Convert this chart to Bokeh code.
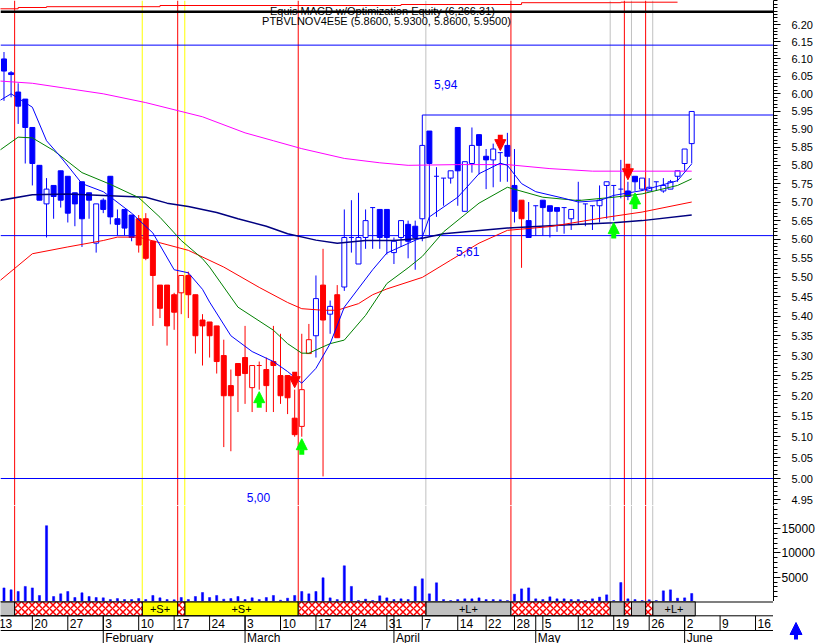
import numpy as np
import pandas as pd
from bokeh.plotting import figure
from bokeh.layouts import column, row
from bokeh.models import (Range1d, LinearScale, FixedTicker, PrintfTickFormatter,
                          Span, Label, Arrow, NormalHead, ColumnDataSource)
from bokeh.embed import file_html
from bokeh.resources import INLINE
from bokeh.core.properties import value

FONT = "Liberation Sans"

# ---------------- DATA ----------------
holidays = ["2003-04-18", "2003-04-21", "2003-05-01"]
title_text = "Equis  MACD  w/Optimization Equity (6,266.31)"
symbol_text = "PTBVLNOV4E5E (5.8600, 5.9300, 5.8600, 5.9500)"

# bars 1..98 (index 0 = 13 Jan 2003)
open_ = [6.10, 6.06, 6.005, 5.985, 5.905, 5.80, 5.695, 5.745, 5.785, 5.77,
         5.725, 5.755, 5.725, 5.59, 5.705, 5.77, 5.655, 5.68, 5.665, 5.655,
         5.655, 5.595, 5.48, 5.48, 5.455, 5.46, 5.505, 5.455, 5.39, 5.385,
         5.375, 5.30, 5.225, 5.28, 5.295, 5.22, 5.275, 5.265, 5.285, 5.25,
         5.25, 5.145, 5.125, 5.305, 5.35, 5.48, 5.405, 5.455, 5.475, 5.605,
         5.535, 5.605, 5.685, 5.68, 5.68, 5.565, 5.605, 5.64, 5.635, 5.655,
         5.895, 5.77, 5.765, 5.765, 5.905, 5.675, 5.805, 5.885, 5.825, 5.815,
         5.835, 5.855, 5.745, 5.705, 5.65, 5.69, 5.705, 5.69, 5.685, 5.685,
         5.655, 5.705, 5.695, 5.69, 5.69, 5.745, 5.745, 5.735, 5.73, 5.77,
         5.735, 5.73, 5.755, 5.73, 5.735, 5.77, 5.805, 5.86]
high = [6.12, 6.065, 6.03, 5.985, 5.905, 5.80, 5.765, 5.745, 5.785, 5.77,
        5.725, 5.755, 5.725, 5.695, 5.71, 5.77, 5.68, 5.68, 5.665, 5.665,
        5.67, 5.595, 5.48, 5.48, 5.46, 5.505, 5.515, 5.455, 5.405, 5.385,
        5.375, 5.34, 5.265, 5.28, 5.375, 5.275, 5.285, 5.295, 5.375, 5.355,
        5.25, 5.215, 5.355, 5.38, 5.505, 5.575, 5.44, 5.48, 5.68, 5.705,
        5.725, 5.68, 5.685, 5.68, 5.68, 5.605, 5.65, 5.65, 5.65, 5.94,
        5.895, 5.795, 5.765, 5.785, 5.905, 5.81, 5.905, 5.885, 5.845, 5.86,
        5.835, 5.89, 5.845, 5.705, 5.70, 5.69, 5.705, 5.69, 5.685, 5.685,
        5.68, 5.755, 5.695, 5.69, 5.745, 5.755, 5.745, 5.815, 5.755, 5.77,
        5.765, 5.765, 5.755, 5.765, 5.76, 5.785, 5.845, 5.95]
low = [5.98, 5.99, 5.915, 5.805, 5.745, 5.705, 5.605, 5.655, 5.685, 5.645,
       5.635, 5.58, 5.655, 5.565, 5.67, 5.64, 5.61, 5.61, 5.595, 5.565,
       5.545, 5.375, 5.395, 5.325, 5.365, 5.405, 5.395, 5.305, 5.275, 5.295,
       5.255, 5.075, 5.065, 5.16, 5.18, 5.16, 5.215, 5.16, 5.16, 5.18,
       5.155, 5.10, 5.10, 5.305, 5.295, 5.005, 5.355, 5.345, 5.465, 5.565,
       5.535, 5.575, 5.575, 5.575, 5.56, 5.535, 5.58, 5.55, 5.52, 5.595,
       5.61, 5.66, 5.69, 5.75, 5.69, 5.675, 5.78, 5.775, 5.735, 5.74,
       5.755, 5.755, 5.645, 5.525, 5.605, 5.61, 5.61, 5.605, 5.62, 5.615,
       5.625, 5.64, 5.635, 5.625, 5.645, 5.655, 5.65, 5.71, 5.705, 5.73,
       5.73, 5.73, 5.73, 5.725, 5.735, 5.755, 5.785, 5.805]
close = [6.065, 6.055, 5.965, 5.905, 5.805, 5.705, 5.735, 5.715, 5.705, 5.67,
         5.695, 5.655, 5.705, 5.695, 5.68, 5.66, 5.64, 5.63, 5.605, 5.585,
         5.55, 5.505, 5.42, 5.375, 5.41, 5.505, 5.455, 5.35, 5.375, 5.35,
         5.285, 5.20, 5.20, 5.25, 5.255, 5.275, 5.275, 5.225, 5.275, 5.20,
         5.195, 5.105, 5.215, 5.34, 5.445, 5.39, 5.425, 5.345, 5.605, 5.605,
         5.605, 5.65, 5.685, 5.605, 5.605, 5.595, 5.65, 5.595, 5.605, 5.855,
         5.805, 5.77, 5.765, 5.785, 5.785, 5.81, 5.855, 5.855, 5.815, 5.845,
         5.835, 5.825, 5.675, 5.655, 5.605, 5.69, 5.685, 5.675, 5.675, 5.685,
         5.68, 5.705, 5.695, 5.69, 5.705, 5.755, 5.745, 5.735, 5.715, 5.755,
         5.765, 5.74, 5.755, 5.745, 5.755, 5.785, 5.845, 5.95]
bar_colors = "b" * 19 + "r" * 25 + "brbr" + "b" * 25 + "r" + "b" * 24
volume = [2800, 2400, 2060, 3100, 2800, 1240, 15600, 1030, 1580, 2060,
          820, 1790, 1030, 820, 750, 400, 600, 400, 400, 600,
          400, 1240, 750, 400, 350, 820, 400, 1030, 1850, 820,
          1240, 480, 600, 1030, 400, 750, 400, 820, 1240, 270,
          680, 1240, 2060, 1580, 2060, 4880, 750, 400, 7350, 3100,
          200, 480, 200, 1170, 750, 400, 550, 400, 3100, 4670,
          1580, 3850, 400, 200, 400, 550, 550, 750, 400, 400,
          350, 200, 1500, 2600, 2800, 550, 400, 960, 550, 550,
          400, 400, 200, 550, 900, 1370, 200, 3900, 550, 400,
          200, 350, 200, 2200, 2400, 680, 750, 1650]

# moving averages (bar index, value)
ma_magenta_x = [0, 5, 10, 15, 21, 29, 35, 39, 43, 49, 54, 58, 65, 72, 78, 84, 90, 98]
ma_magenta_y = [6.037, 6.03, 6.015, 6.0, 5.975, 5.935, 5.89, 5.868, 5.846, 5.819,
                5.807, 5.80, 5.802, 5.802, 5.791, 5.784, 5.784, 5.784]
ma_navy_x = [0, 5, 10, 15, 21, 24, 27, 31, 34, 38, 41, 45, 48, 52, 56, 60, 63, 72, 80, 87, 91, 98]
ma_navy_y = [5.703, 5.72, 5.722, 5.718, 5.713, 5.697, 5.688, 5.672, 5.655, 5.635, 5.615,
             5.598, 5.59, 5.597, 5.597, 5.603, 5.615, 5.63, 5.638, 5.644, 5.65, 5.665]
ma_red_x = [0, 5, 10, 15, 17, 20, 24, 27, 32, 37, 41, 43, 46, 48, 51, 53, 55, 60, 64, 68,
            72, 78, 86, 91, 98]
ma_red_y = [5.485, 5.562, 5.58, 5.597, 5.606, 5.606, 5.586, 5.571, 5.527, 5.474, 5.435,
            5.419, 5.415, 5.415, 5.432, 5.455, 5.47, 5.50, 5.545, 5.59, 5.624, 5.634,
            5.659, 5.673, 5.70]
ma_green_x = [0, 3, 5, 8, 12, 16, 20, 23, 26, 29, 30, 34, 39, 41, 43, 44, 47, 49, 52, 55,
              58, 60, 63, 68, 72, 77, 82, 87, 91, 96, 98]
ma_green_y = [5.836, 5.878, 5.876, 5.841, 5.78, 5.748, 5.712, 5.659, 5.597, 5.549, 5.527,
              5.423, 5.364, 5.33, 5.306, 5.306, 5.33, 5.339, 5.402, 5.484, 5.525, 5.555,
              5.62, 5.697, 5.74, 5.713, 5.704, 5.713, 5.722, 5.745, 5.763]
ma_blue_x = [0, 2, 5, 7, 9, 12, 15, 16, 19, 22, 25, 27, 29, 30, 33, 36, 39, 41, 43, 45,
             47, 49, 53, 55, 60, 61, 65, 68, 71, 72, 74, 76, 80, 82, 85, 87, 91, 96, 98]
ma_blue_y = [5.976, 6.00, 5.962, 5.868, 5.823, 5.75, 5.728, 5.714, 5.67, 5.617, 5.52,
             5.512, 5.469, 5.436, 5.35, 5.31, 5.285, 5.26, 5.231, 5.268, 5.33, 5.423,
             5.52, 5.564, 5.606, 5.66, 5.713, 5.777, 5.806, 5.80, 5.75, 5.728, 5.71,
             5.70, 5.704, 5.718, 5.731, 5.758, 5.804]

# horizontal levels
levels_full = [6.14, 5.61, 5.00]
level_594 = 5.94
level_594_start = 60
level_texts = ["5,94", "5,61", "5,00"]
level_vals = [5.94, 5.61, 5.00]
level_text_x = [63.3, 66.4, 36.9]

# trades (side, entry bar, exit bar); last one still open
trades = [("L", 0, 2), ("S", 21, 25), ("S", 27, 42), ("L", 61, 72),
          ("L", 87, 88), ("L", 90, 91), ("L", 93, 98)]
buy_bars = [37, 43, 87, 90]
sell_bars = [42, 71, 89]

# equity (bar index where level starts, value)
eq_x = [0, 3, 7, 23, 57, 74, 88, 96]
eq_v = [5000, 5248, 5402, 5632, 5824, 6170, 6266.31, 6266.31]

# ---------------- LAYOUT CONSTANTS ----------------
X0, DX = -3.6, 7.09            # pixel of bar 0, px per bar
P_REF, Y_REF, KLOG = 5.0, 478.0, 2110.0


def py(yref):
    return P_REF * np.exp((Y_REF - yref) / KLOG)


W = 819
FRAME_W = 773
H_PRICE, H_VOL, H_BAND = 505, 96, 42
EQ_TOP, EQ_PX = 6266.31 + 1.7 * 192, 192.0

xs = (0 - X0) / DX
xe = (FRAME_W - X0) / DX

BLUE, RED, GREEN, YEL, GRAY = "#0000ff", "#ff0000", "#00ff00", "#ffff00", "#c0c0c0"

trading_days = [d for d in pd.bdate_range("2003-01-13", "2003-06-20")
                if d.strftime("%Y-%m-%d") not in holidays]
idx = list(range(1, len(open_) + 1))
color = [BLUE if c == "b" else RED for c in bar_colors]

xr = Range1d(xs, xe)

# ---------------- PRICE PANEL ----------------
p = figure(width=W, height=H_PRICE, x_range=xr,
           y_range=Range1d(py(H_PRICE), py(0)), y_axis_type="log",
           y_axis_location="right", x_axis_location=None,
           toolbar_location=None, output_backend="svg",
           min_border_left=0, min_border_right=W - FRAME_W,
           min_border_top=0, min_border_bottom=0, outline_line_color=None)
p.xgrid.visible = False
p.ygrid.visible = False
p.extra_y_ranges = {"eq": Range1d(EQ_TOP - H_PRICE * EQ_PX, EQ_TOP)}
p.extra_y_scales = {"eq": LinearScale()}

major = [round(4.95 + 0.05 * k, 2) for k in range(26)]
minor = [round(4.93 + 0.01 * k, 2) for k in range(135)]
ax = p.yaxis[0]
ax.ticker = FixedTicker(ticks=major, minor_ticks=minor)
ax.formatter = PrintfTickFormatter(format="%.2f")
ax.major_tick_out = 7
ax.major_tick_in = 0
ax.minor_tick_out = 4
ax.minor_tick_in = 0
ax.major_label_standoff = 11
ax.major_label_text_font = FONT
ax.major_label_text_font_size = "11px"
ax.major_label_text_color = "#000000"
ax.axis_line_color = "#000000"


def trade_lines():
    out = []
    for k, (side, e, x) in enumerate(trades):
        out.append((e - 0.5, YEL if side == "S" else GRAY))
        if k < len(trades) - 1:
            out.append((x + 0.5, RED))
    return out


for loc, c in trade_lines():
    p.add_layout(Span(location=loc, dimension="height", line_color=c,
                      line_width=1, level="underlay"))

for lv in levels_full:
    p.add_layout(Span(location=lv, dimension="width", line_color=BLUE,
                      line_width=1, level="underlay"))
p.segment(x0=[level_594_start], y0=[level_594], x1=[xe + 5], y1=[level_594],
          line_color=BLUE, line_width=1)

# equity line
p.step(x=eq_x, y=eq_v, mode="after", y_range_name="eq", line_color=RED, line_width=1)
p.add_layout(Span(location=py(11.2), dimension="width", line_color="#000000",
                  line_width=2.5))

# candles
src = ColumnDataSource(dict(x=idx, o=open_, h=high, l=low, c=close, col=color))
p.segment(x0="x", y0="l", x1="x", y1="h", line_color="col", line_width=1, source=src)


def sub(ks):
    return ColumnDataSource(dict(x=[idx[k] for k in ks], o=[open_[k] for k in ks],
                                 c=[close[k] for k in ks], col=[color[k] for k in ks],
                                 x0=[idx[k] - 0.35 for k in ks], x1=[idx[k] + 0.35 for k in ks]))


n = len(open_)
dn = [k for k in range(n) if close[k] < open_[k]]
up = [k for k in range(n) if close[k] > open_[k]]
dj = [k for k in range(n) if close[k] == open_[k]]
p.vbar(x="x", width=0.7, top="o", bottom="c", fill_color="col", line_color="col",
       line_width=1, source=sub(dn))
p.vbar(x="x", width=0.7, top="c", bottom="o", fill_color="white", line_color="col",
       line_width=1, source=sub(up))
p.segment(x0="x0", y0="c", x1="x1", y1="c", line_color="col", line_width=1, source=sub(dj))

# moving averages
p.line(ma_magenta_x, ma_magenta_y, line_color="#ff00ff", line_width=1)
p.line(ma_navy_x, ma_navy_y, line_color="#000080", line_width=1.5)
p.line(ma_red_x, ma_red_y, line_color=RED, line_width=1)
p.line(ma_green_x, ma_green_y, line_color="#008000", line_width=1)
p.line(ma_blue_x, ma_blue_y, line_color=BLUE, line_width=1)

# level labels
p.text(x=level_text_x, y=level_vals, text=level_texts, y_offset=[-31, 16, 19],
       text_align="center", text_baseline="middle", text_color=BLUE,
       text_font=value(FONT), text_font_size="12px")

# signal arrows
bx = buy_bars
by_tip = [low[b - 1] * np.exp(-2 / KLOG) for b in bx]
by_tail = [low[b - 1] * np.exp(-18 / KLOG) for b in bx]
p.add_layout(Arrow(end=NormalHead(size=11, fill_color=GREEN, line_color=GREEN),
                   source=ColumnDataSource(dict(x=bx, y0=by_tail, y1=by_tip)),
                   x_start="x", y_start="y0", x_end="x", y_end="y1",
                   line_color=GREEN, line_width=5))
sx = sell_bars
sy_tip = [high[b - 1] * np.exp(2 / KLOG) for b in sx]
sy_tail = [high[b - 1] * np.exp(18 / KLOG) for b in sx]
p.add_layout(Arrow(end=NormalHead(size=11, fill_color=RED, line_color=RED),
                   source=ColumnDataSource(dict(x=sx, y0=sy_tail, y1=sy_tip)),
                   x_start="x", y_start="y0", x_end="x", y_end="y1",
                   line_color=RED, line_width=5))

# titles
p.add_layout(Label(x=(385 - X0) / DX, y=py(10.7), text=title_text, text_align="center",
                   text_baseline="middle", text_font=FONT, text_font_size="11px",
                   text_color="#000000"))
p.add_layout(Label(x=(386 - X0) / DX, y=py(20.7), text=symbol_text, text_align="center",
                   text_baseline="middle", text_font=FONT, text_font_size="11px",
                   text_color="#000000"))

# ---------------- VOLUME PANEL ----------------
v = figure(width=W, height=H_VOL, x_range=xr, y_range=Range1d(0, H_VOL / 4.86 * 1000),
           y_axis_location="right", x_axis_location=None, toolbar_location=None,
           output_backend="svg", min_border_left=0, min_border_right=W - FRAME_W,
           min_border_top=0, min_border_bottom=0, outline_line_color=None)
v.xgrid.visible = False
v.ygrid.visible = False
vax = v.yaxis[0]
vax.ticker = FixedTicker(ticks=[5000, 10000, 15000], minor_ticks=list(range(1000, 20000, 1000)))
vax.formatter = PrintfTickFormatter(format="%d")
vax.major_tick_out = 7
vax.major_tick_in = 0
vax.minor_tick_out = 4
vax.minor_tick_in = 0
vax.major_label_standoff = 1
vax.major_label_text_font = FONT
vax.major_label_text_font_size = "12px"
vax.major_label_text_color = "#000000"
for loc, c in trade_lines():
    v.add_layout(Span(location=loc, dimension="height", line_color=c,
                      line_width=1, level="underlay"))
v.vbar(x=idx, width=0.3, top=volume, bottom=0, fill_color=BLUE, line_color=BLUE, line_width=0.5)

# ---------------- BAND + DATES ----------------
b = figure(width=FRAME_W, height=H_BAND, x_range=xr, y_range=Range1d(643, 601),
           x_axis_location=None, y_axis_location=None, toolbar_location=None,
           output_backend="svg", min_border_left=0, min_border_right=0,
           min_border_top=0, min_border_bottom=0, outline_line_color=None)
b.xgrid.visible = False
b.ygrid.visible = False

seg_l, seg_r, seg_c, seg_lab, seg_mid = [], [], [], [], []
gap_l, gap_r = [], []
for k, (side, e, x) in enumerate(trades):
    seg_l.append(e - 0.5)
    seg_r.append(x + 0.5)
    seg_c.append(YEL if side == "S" else GRAY)
    if x - e + 1 >= 4 and e > 0:
        seg_lab.append("+S+" if side == "S" else "+L+")
        seg_mid.append((e + x) / 2)
    if k > 0:
        gap_l.append(trades[k - 1][2] + 0.5)
        gap_r.append(e - 0.5)
b.quad(left=seg_l, right=seg_r, top=601, bottom=615.3, fill_color=seg_c,
       line_color="#000000", line_width=1)
b.quad(left=gap_l, right=gap_r, top=601, bottom=615.3, fill_color="white",
       hatch_pattern="diagonal_cross", hatch_color=RED, hatch_scale=7, hatch_weight=1.5,
       line_color="#000000", line_width=1)
b.text(x=seg_mid, y=[608.3] * len(seg_mid), text=seg_lab, text_align="center",
       text_baseline="middle", text_font=value(FONT), text_font_size="11px",
       text_color="#000000")

b.segment(x0=[xs, xs, xs], x1=[xe, xe, xe], y0=[601, 615.3, 630], y1=[601, 615.3, 630],
          line_color="#000000", line_width=[2, 1, 1])

week_i, week_lab, mon_i, mon_lab = [], [], [], []
prev = None
for i, d in enumerate(trading_days):
    wk = d.isocalendar()[1]
    if prev is None or wk != prev.isocalendar()[1]:
        week_i.append(i)
        week_lab.append(str(d.day))
    if prev is not None and d.month != prev.month:
        mon_i.append(i)
        mon_lab.append(d.strftime("%B"))
    prev = d
b.segment(x0=week_i, x1=week_i, y0=[615.3] * len(week_i), y1=[630] * len(week_i),
          line_color="#000000", line_width=1)
b.segment(x0=mon_i, x1=mon_i, y0=[615.3] * len(mon_i), y1=[644] * len(mon_i),
          line_color="#000000", line_width=1)
b.text(x=week_i, y=[623] * len(week_i), text=week_lab, x_offset=2, text_align="left",
       text_baseline="middle", text_font=value(FONT), text_font_size="12px",
       text_color="#000000")
b.text(x=mon_i, y=[637] * len(mon_i), text=mon_lab, x_offset=2, text_align="left",
       text_baseline="middle", text_font=value(FONT), text_font_size="12px",
       text_color="#000000")

# small corner icon (blue up arrow)
a = figure(width=W - FRAME_W, height=H_BAND, x_range=Range1d(0, W - FRAME_W),
           y_range=Range1d(643, 601), x_axis_location=None, y_axis_location=None,
           toolbar_location=None, output_backend="svg", min_border_left=0,
           min_border_right=0, min_border_top=0, min_border_bottom=0,
           outline_line_color=None)
a.xgrid.visible = False
a.ygrid.visible = False
a.add_layout(Arrow(end=NormalHead(size=12, fill_color=BLUE, line_color=BLUE),
                   x_start=22.5, y_start=639, x_end=22.5, y_end=622,
                   line_color=BLUE, line_width=4))

layout = column(p, v, row(b, a, spacing=0), spacing=0)
open("out.html", "w").write(file_html(layout, INLINE))
